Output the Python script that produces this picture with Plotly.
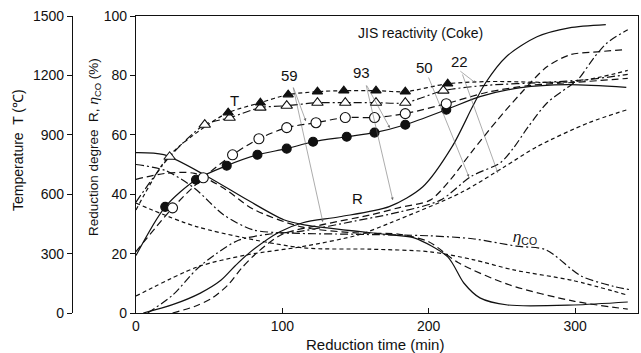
import plotly.graph_objects as go

# ---------------- data ----------------
# Temperature curves (deg C); each: start point, measured (marked) points, tail
# Filled circles (solid line), reactivity 93
tfc_line_t = [0]
tfc_line_v = [290]
tfc_mark_t = [20, 41, 62, 83, 103, 121, 144, 163, 184, 212]
tfc_mark_v = [536, 673, 744, 799, 830, 865, 890, 911, 951, 1027]
tfc_tail_t = [235, 263, 295, 335]
tfc_tail_v = [1093, 1138, 1153, 1140]

# Open circles (long dash), reactivity 59
toc_line_t = [0]
toc_line_v = [310]
toc_mark_t = [25, 46, 66, 84, 103, 123, 143, 163, 184, 212]
toc_mark_v = [531, 683, 799, 880, 936, 961, 987, 987, 1007, 1057]
toc_tail_t = [240, 270, 300, 336]
toc_tail_v = [1115, 1150, 1165, 1185]

# Open triangles (dash-dot), reactivity 50
tot_line_t = [0]
tot_line_v = [560]
tot_mark_t = [23, 47, 64, 85, 103, 124, 143, 164, 184, 210]
tot_mark_v = [789, 951, 986, 1037, 1047, 1062, 1062, 1062, 1062, 1123]
tot_tail_t = [240, 280, 310, 336]
tot_tail_v = [1150, 1165, 1180, 1205]

# Filled triangles (short dash), reactivity 22
tft_line_t = [0, 22, 47]
tft_line_v = [520, 789, 940]
tft_mark_t = [63, 85, 104, 124, 142, 164, 184, 213]
tft_mark_v = [1012, 1062, 1103, 1118, 1123, 1123, 1118, 1158]
tft_tail_t = [241, 300, 336]
tft_tail_v = [1169, 1169, 1225]

# Reduction degree R (%)
r_solid_t = [5, 25, 44, 58, 68, 78, 98, 114, 139, 173, 196, 216, 230, 239, 253, 274, 296, 321]
r_solid_v = [0, 2.8, 6.7, 11, 16, 20.5, 27.3, 30.4, 32.4, 35.8, 42.5, 56, 69.5, 77.6, 86.3, 93, 96, 97.1]
r_ldash_t = [25, 40, 52, 63, 72, 82, 100, 130, 160, 180, 201, 215, 229, 247, 263, 281, 297, 317, 334]
r_ldash_v = [0, 2.2, 5, 9.5, 15, 20, 26.5, 30, 33, 35.5, 38, 45, 54, 65, 74, 83, 87, 88, 88.7]
r_dashdot_t = [8, 25, 42, 55, 70, 90, 112, 150, 180, 208, 229, 249, 258, 268, 281, 295, 302, 313, 322, 336]
r_dashdot_v = [0, 6, 15, 20, 24.5, 26.5, 27.5, 31, 34, 38, 46, 50.6, 55.6, 62.7, 70.8, 76, 78.6, 86, 91, 95.4]
r_sdash_t = [0, 42, 76, 113, 152, 174, 222, 251, 274, 309, 336]
r_sdash_v = [5.7, 15.5, 19.6, 22.3, 26.3, 30.4, 40.5, 49, 56, 64, 68.5]

# CO utilisation eta_CO (%)
e_solid_t = [0, 19, 49, 76, 101, 115, 174, 190, 213, 224, 235, 254, 299, 336]
e_solid_v = [54, 53.3, 45.9, 38.1, 31.4, 29.7, 26.3, 25.3, 18.9, 10.1, 5.1, 2.7, 2.7, 3.7]
e_ldash_t = [0, 20, 40, 60, 80, 113, 150, 180, 200, 220, 255, 299, 336]
e_ldash_v = [45, 47, 47, 42, 35, 29, 27, 26.5, 24, 17, 9.5, 4, 1.3]
e_dashdot_t = [0, 20, 40, 60, 80, 100, 150, 200, 230, 260, 280, 304, 326, 338]
e_dashdot_v = [50, 48, 42, 33, 28, 27, 26.5, 26, 25, 22.5, 21.3, 12.5, 9, 7.8]
e_sdash_t = [0, 42, 113, 160, 201, 230, 258, 298, 336]
e_sdash_v = [37, 29, 22, 21.5, 20.6, 18, 14.5, 11, 6]

# JIS reactivity labels: text position and leader arrows (tail -> head), in (min, %)
jis_labels = ["59", "93", "50", "22"]
jis_label_t = [105.2, 154.4, 197.4, 221.3]
jis_label_v = [80.1, 81.1, 82.5, 84.8]
leader_tail_t = [107.2, 107.2, 157.1, 157.1, 199.5, 220.6, 222.7]
leader_tail_v = [76.4, 76.4, 77.1, 77.1, 79.8, 81.8, 80.8]
leader_head_t = [116.1, 127.7, 173.5, 175.5, 227.5, 232.2, 247.3]
leader_head_v = [64.6, 30.6, 62.3, 38.0, 45.8, 77.4, 47.1]

x_ticks = [0, 100, 200, 300]
r_ticks = [0, 20, 40, 60, 80, 100]
t_ticks = [0, 300, 600, 900, 1200, 1500]

# ---------------- figure ----------------
FONT = "Arial, Liberation Sans, Helvetica, sans-serif"
INK = "#111111"
LW = 1.2
DASH = {
    "solid": "solid",
    "ldash": "7px,4px",
    "dashdot": "8px,3px,2px,3px",
    "sdash": "4px,3px",
}

fig = go.Figure()


def curve(t, v, dash, yaxis="y"):
    fig.add_trace(go.Scatter(
        x=t, y=v, mode="lines", yaxis=yaxis,
        line=dict(color=INK, width=LW, dash=dash, shape="spline", smoothing=0.8),
        showlegend=False, hoverinfo="skip"))


# R and eta curves
curve(r_solid_t, r_solid_v, DASH["solid"])
curve(r_ldash_t, r_ldash_v, DASH["ldash"])
curve(r_dashdot_t, r_dashdot_v, DASH["dashdot"])
curve(r_sdash_t, r_sdash_v, DASH["sdash"])
curve(e_solid_t, e_solid_v, DASH["solid"])
curve(e_ldash_t, e_ldash_v, DASH["ldash"])
curve(e_dashdot_t, e_dashdot_v, DASH["dashdot"])
curve(e_sdash_t, e_sdash_v, DASH["sdash"])

# temperature curves with their measured points
t_series = [
    (tfc_line_t, tfc_line_v, tfc_mark_t, tfc_mark_v, tfc_tail_t, tfc_tail_v, "solid", "circle", INK, 9),
    (toc_line_t, toc_line_v, toc_mark_t, toc_mark_v, toc_tail_t, toc_tail_v, "ldash", "circle", "white", 10),
    (tot_line_t, tot_line_v, tot_mark_t, tot_mark_v, tot_tail_t, tot_tail_v, "dashdot", "triangle-up", "white", 10),
    (tft_line_t, tft_line_v, tft_mark_t, tft_mark_v, tft_tail_t, tft_tail_v, "sdash", "triangle-up", INK, 9),
]
for lt, lv, mt, mv, tt, tv, d, sym, fill, sz in t_series:
    curve(lt + mt + tt, lv + mv + tv, DASH[d], yaxis="y2")
for lt, lv, mt, mv, tt, tv, d, sym, fill, sz in t_series:
    fig.add_trace(go.Scatter(
        x=mt, y=mv, mode="markers", yaxis="y2",
        marker=dict(symbol=sym, size=sz, color=fill, line=dict(color=INK, width=1.1)),
        showlegend=False, hoverinfo="skip"))

ann = []
# leader arrows for the reactivity labels
for xt, yt, xh, yh in zip(leader_tail_t, leader_tail_v, leader_head_t, leader_head_v):
    ann.append(dict(x=xh, y=yh, ax=xt, ay=yt, xref="x", yref="y", axref="x", ayref="y",
                    text="", showarrow=True, arrowhead=2, arrowsize=1.0,
                    arrowwidth=0.55, arrowcolor="#666666"))
for txt, xt, yt in zip(jis_labels, jis_label_t, jis_label_v):
    ann.append(dict(x=xt, y=yt, xref="x", yref="y", text=txt, showarrow=False,
                    font=dict(family=FONT, size=15, color=INK)))


def label(x, y, text, size, ref="x", angle=0):
    yref = "y" if ref == "x" else "paper"
    return dict(x=x, y=y, xref=ref, yref=yref, text=text, showarrow=False,
                textangle=angle, xanchor="center", yanchor="middle",
                font=dict(family=FONT, size=size, color=INK))


ann += [
    label(194.7, 94.3, "JIS reactivity (Coke)", 14),
    label(67.6, 71.7, "T", 15),
    label(151.6, 38.7, "R", 15),
    label(265.7, 25.3, "<i>η</i><sub>CO</sub>", 15),
    label(-0.0954, 0.549, "Temperature  T (℃)", 14, ref="paper", angle=-90),
    label(0.0406, 0.559, "Reduction degree  R, <i>η</i><sub>CO</sub> (%)", 13.5, ref="paper", angle=-90),
    label(0.535, -0.105, "Reduction time (min)", 15, ref="paper"),
]

axis_common = dict(showline=True, linecolor=INK, linewidth=1.2, showgrid=False,
                   zeroline=False, tickcolor=INK, tickfont=dict(family=FONT, size=14, color=INK))

fig.update_layout(
    width=641, height=353,
    margin=dict(l=72, r=3, t=16, b=40),
    paper_bgcolor="white", plot_bgcolor="white",
    showlegend=False,
    annotations=ann,
    xaxis=dict(range=[0, 343], domain=[0.113, 1.0], tickvals=x_ticks, ticks="inside",
               ticklen=5, mirror=True, **axis_common),
    yaxis=dict(range=[0, 100], tickvals=r_ticks, ticks="outside", ticklen=5,
               mirror=True, anchor="x", **axis_common),
    yaxis2=dict(range=[0, 1500], tickvals=t_ticks, ticks="outside", ticklen=5,
                overlaying="y", anchor="free", position=0, side="left", **axis_common),
)

fig.write_html("out.html")
